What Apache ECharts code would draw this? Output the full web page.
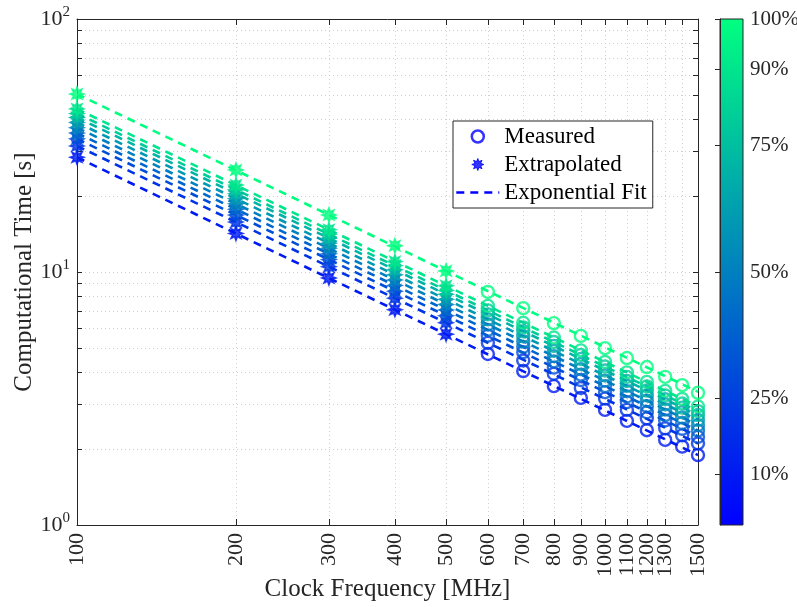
<!DOCTYPE html>
<html><head><meta charset="utf-8">
<script src="https://cdn.jsdelivr.net/npm/echarts@6/dist/echarts.min.js"></script>
<style>html,body{margin:0;padding:0;background:#fff}#c{width:797px;height:607px}</style>
</head><body><div id="c"></div>
<script>
// ---- data ----
const freqExtrap = [100, 200, 300, 400, 500];
const freqMeas = [600, 700, 800, 900, 1000, 1100, 1200, 1300, 1400, 1500];
const freqTicks = [100, 200, 300, 400, 500, 600, 700, 800, 900, 1000, 1100, 1200, 1300, 1400, 1500];
const timeTicks = [1, 2, 3, 4, 5, 6, 7, 8, 9, 10, 20, 30, 40, 50, 60, 70, 80, 90, 100];
const timeLabels = [1, 10, 100];
const pctLevels = [10, 20, 30, 40, 50, 60, 70, 80, 90, 100];
const pctTicks = [10, 25, 50, 75, 90, 100];
const extrap10 = [28.4, 14.2, 9.47, 7.1, 5.68];
const extrap20 = [31.5, 15.75, 10.5, 7.88, 6.3];
const extrap30 = [33.6, 16.8, 11.2, 8.4, 6.72];
const extrap40 = [35.4, 17.7, 11.8, 8.85, 7.08];
const extrap50 = [37.2, 18.6, 12.4, 9.3, 7.44];
const extrap60 = [39.0, 19.5, 13.0, 9.75, 7.8];
const extrap70 = [40.8, 20.4, 13.6, 10.2, 8.16];
const extrap80 = [42.3, 21.15, 14.1, 10.6, 8.46];
const extrap90 = [44.1, 22.05, 14.7, 11.0, 8.82];
const extrap100 = [50.5, 25.3, 16.8, 12.7, 10.1];
const meas10 = [4.74, 4.06, 3.54, 3.18, 2.85, 2.58, 2.37, 2.17, 2.04, 1.89];
const meas20 = [5.25, 4.47, 3.96, 3.48, 3.16, 2.85, 2.64, 2.41, 2.26, 2.10];
const meas30 = [5.60, 4.82, 4.19, 3.74, 3.35, 3.06, 2.79, 2.59, 2.40, 2.23];
const meas40 = [5.90, 5.06, 4.43, 3.93, 3.54, 3.22, 2.95, 2.72, 2.53, 2.36];
const meas50 = [6.20, 5.31, 4.65, 4.13, 3.72, 3.38, 3.10, 2.86, 2.66, 2.48];
const meas60 = [6.50, 5.57, 4.88, 4.33, 3.90, 3.55, 3.25, 3.00, 2.79, 2.60];
const meas70 = [6.80, 5.83, 5.10, 4.53, 4.08, 3.71, 3.40, 3.14, 2.91, 2.72];
const meas80 = [7.05, 6.04, 5.29, 4.70, 4.23, 3.85, 3.53, 3.25, 3.02, 2.82];
const meas90 = [7.35, 6.30, 5.51, 4.90, 4.41, 4.01, 3.68, 3.39, 3.15, 2.94];
const meas100 = [8.34, 7.20, 6.28, 5.59, 5.00, 4.57, 4.21, 3.85, 3.57, 3.33];
const fitAt100 = [28.4, 31.5, 33.6, 35.4, 37.2, 39.0, 40.8, 42.3, 44.1, 50.5];
const fitAt1500 = [1.89, 2.10, 2.24, 2.36, 2.48, 2.60, 2.72, 2.82, 2.94, 3.36];

const extrapolated = [extrap10, extrap20, extrap30, extrap40, extrap50, extrap60, extrap70, extrap80, extrap90, extrap100];
const measured = [meas10, meas20, meas30, meas40, meas50, meas60, meas70, meas80, meas90, meas100];

// ---- styling ----
const FONT = 'Liberation Serif';
const TXT = '#262626';
function winter(p) {
  const t = p / 100;
  return 'rgb(0,' + Math.round(255 * t) + ',' + Math.round(255 * (1 - t / 2)) + ')';
}
const STAR = 'path://M50 0 L60 26 L85.36 14.64 L74 40 L100 50 L74 60 L85.36 85.36 L60 74 L50 100 L40 74 L14.64 85.36 L26 60 L0 50 L26 40 L14.64 14.64 L40 26 Z';

const series = [];
pctLevels.forEach((p, i) => {
  const c = winter(p);
  series.push({
    name: 'Exponential Fit', type: 'line', xAxisIndex: 0, yAxisIndex: 0,
    data: [[freqTicks[0], fitAt100[i]], [freqTicks[freqTicks.length - 1], fitAt1500[i]]],
    symbol: 'none', silent: true, z: 2,
    lineStyle: { color: c, width: 2.6, type: [8, 6] }
  });
});
pctLevels.forEach((p, i) => {
  const c = winter(p);
  series.push({
    name: 'Extrapolated', type: 'scatter', xAxisIndex: 0, yAxisIndex: 0,
    data: freqExtrap.map((f, j) => [f, extrapolated[i][j]]),
    symbol: STAR, symbolSize: 14, silent: true, z: 3,
    itemStyle: { color: c, borderColor: c, borderWidth: 1.6 }
  });
  series.push({
    name: 'Measured', type: 'scatter', xAxisIndex: 0, yAxisIndex: 0,
    data: freqMeas.map((f, j) => [f, measured[i][j]]),
    symbol: 'circle', symbolSize: 12, silent: true, z: 3,
    itemStyle: { color: 'rgba(0,0,0,0)', borderColor: c, borderWidth: 2.4 }
  });
});

const gridLine = { show: true, lineStyle: { color: '#cfcfcf', type: [1, 3], width: 1 } };
const axLine = { show: true, lineStyle: { color: TXT, width: 1 } };

const option = {
  animation: false,
  backgroundColor: '#fff',
  textStyle: { fontFamily: FONT, color: TXT },
  grid: [
    { left: 77, top: 19, width: 621, height: 506, containLabel: false, outerBoundsMode: 'none' },
    { left: 720, top: 19, width: 23, height: 506, show: true, borderColor: TXT, borderWidth: 1, outerBoundsMode: 'none',
      backgroundColor: { type: 'linear', x: 0, y: 0, x2: 0, y2: 1,
        colorStops: [{ offset: 0, color: winter(100) }, { offset: 1, color: winter(0) }] } }
  ],
  xAxis: [
    { gridIndex: 0, type: 'log', logBase: 10, min: 100, max: 1500.01, position: 'bottom',
      axisLine: axLine,
      axisTick: { show: true, inside: true, length: 6, customValues: freqTicks, lineStyle: { color: TXT } },
      axisLabel: { customValues: freqTicks, rotate: 90, margin: 8, fontSize: 22, fontFamily: FONT, color: TXT,
        showMaxLabel: true, showMinLabel: true, hideOverlap: false,
        formatter: v => String(Math.round(v)) },
      splitLine: gridLine,
      name: 'Clock Frequency [MHz]', nameLocation: 'middle', nameGap: 52, nameMoveOverlap: false,
      nameTextStyle: { fontSize: 25, fontFamily: FONT, color: TXT } },
    { gridIndex: 0, type: 'log', logBase: 10, min: 100, max: 1500.01, position: 'top',
      axisLine: axLine,
      axisTick: { show: true, inside: true, length: 6, customValues: freqTicks, lineStyle: { color: TXT } },
      axisLabel: { show: false }, splitLine: { show: false } },
    { gridIndex: 1, type: 'value', min: 0, max: 1, show: false }
  ],
  yAxis: [
    { gridIndex: 0, type: 'log', logBase: 10, min: 1, max: 100, position: 'left',
      axisLine: axLine,
      axisTick: { show: true, inside: true, length: 5, customValues: timeTicks, lineStyle: { color: TXT } },
      axisLabel: { customValues: timeLabels, margin: 7, fontFamily: FONT, color: TXT,
        showMaxLabel: true, showMinLabel: true,
        formatter: v => '{b|10}{s|' + Math.round(Math.log10(v)) + '}',
        rich: { b: { fontSize: 22, fontFamily: FONT, color: TXT, lineHeight: 28 },
                s: { fontSize: 15, fontFamily: FONT, color: TXT, verticalAlign: 'top', lineHeight: 15 } } },
      splitLine: gridLine,
      name: 'Computational Time [s]', nameLocation: 'middle', nameGap: 40, nameMoveOverlap: false,
      nameTextStyle: { fontSize: 25, fontFamily: FONT, color: TXT } },
    { gridIndex: 0, type: 'log', logBase: 10, min: 1, max: 100, position: 'right',
      axisLine: axLine,
      axisTick: { show: true, inside: true, length: 5, customValues: timeTicks, lineStyle: { color: TXT } },
      axisLabel: { show: false }, splitLine: { show: false } },
    { gridIndex: 1, type: 'value', min: 0, max: 100, position: 'right',
      axisLine: { show: true, lineStyle: { color: TXT } },
      axisTick: { show: true, inside: true, length: 5, customValues: pctTicks, lineStyle: { color: TXT } },
      axisLabel: { customValues: pctTicks, formatter: '{value}%', margin: 7, fontSize: 21, fontFamily: FONT, color: TXT,
        showMaxLabel: true, showMinLabel: true },
      splitLine: { show: false } }
  ],
  legend: {
    orient: 'vertical', left: 453, top: 121,
    backgroundColor: '#fff', borderColor: TXT, borderWidth: 1,
    padding: [4, 6, 4, 2], itemGap: 5, itemWidth: 43, itemHeight: 12,
    textStyle: { fontSize: 23, fontFamily: FONT, color: '#000' },
    selectedMode: false,
    data: [
      { name: 'Measured', icon: 'circle', itemStyle: { color: 'rgba(0,0,0,0)', borderColor: '#0000ff', borderWidth: 2.5 } },
      { name: 'Extrapolated', icon: STAR, itemStyle: { color: '#0000ff', borderColor: '#0000ff', borderWidth: 1 } },
      { name: 'Exponential Fit', itemStyle: { color: 'rgba(0,0,0,0)', borderColor: 'rgba(0,0,0,0)', borderWidth: 0, opacity: 0 },
        lineStyle: { color: '#0000ff', width: 2.6, type: [8, 6], opacity: 1 } }
    ]
  },
  series: series
};

const chart = echarts.init(document.getElementById('c'), null, { renderer: 'canvas' });
chart.setOption(option);
</script>
</body></html>
